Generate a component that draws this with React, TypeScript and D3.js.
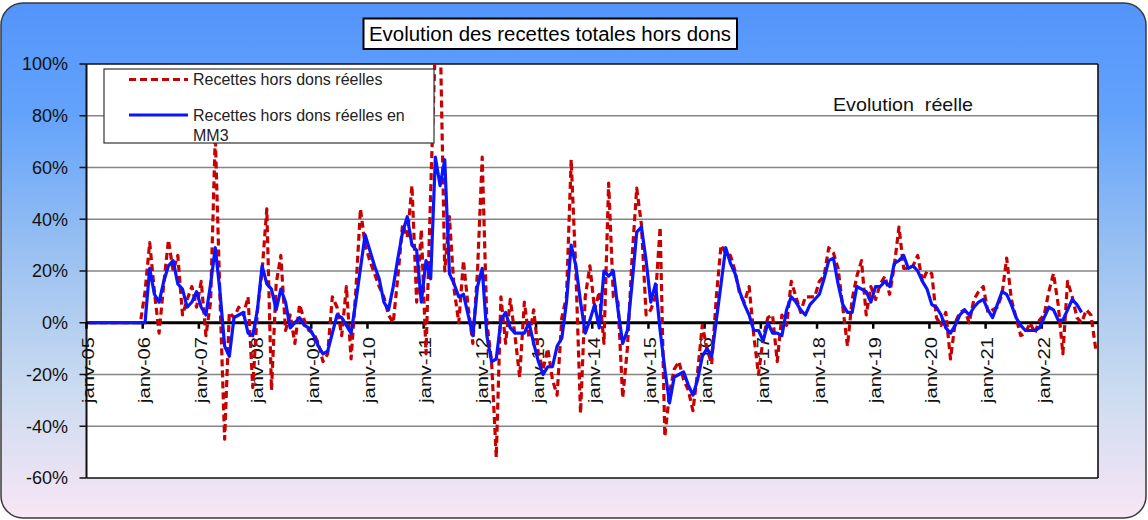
import React from 'react';
import * as d3 from 'd3';

// ---------- data ----------
const tickLabels = [
  'janv-05', 'janv-06', 'janv-07', 'janv-08', 'janv-09', 'janv-10', 'janv-11', 'janv-12', 'janv-13',
  'janv-14', 'janv-15', 'janv-16', 'janv-17', 'janv-18', 'janv-19', 'janv-20', 'janv-21', 'janv-22',
];

const yTicks = [100, 80, 60, 40, 20, 0, -20, -40, -60];

// Recettes hors dons réelles (monthly, % evolution), janv-05 onward
const reelles = [
  0, 0, 0, 0, 0, 0, 0, 0, 0, 0, 0, 0,
  12, 31, 12, -4, 15, 32, 20, 26, 3, 9, 14, 6,
  16, -5, 8, 72, 10, -45, 4, 2, 6, 3, 10, -25,
  5, 20, 44, -26, 15, 26, -3, 3, -8, 7, 1, -3,
  -4, -8, -15, -12, 10, 6, -5, 14, -14, 12, 44, 30,
  24, 19, 14, 10, 3, 0, 18, 38, 33, 53, 8, 36,
  -12, 51, 108, 115, 20, 41, 13, 0, 24, 6, -8, 20,
  64, 0, -15, -52, 10, -8, 9, -5, -21, 8, -6, 5,
  -12, -18, -10, -22, -28, 2, 10, 63, 20, -35, 10, 22,
  5, 12, -8, 54, 10, 8, -29, -10, 25, 52, 38, 3,
  5, 10, 37, -44, -27, -18, -15, -22, -26, -34, -19, -1,
  -10, -16, 10, 30, 27, 26, 20, 11, 8, 14, -5, -20,
  -6, 2, 3, -15, 3, -1, 16, 10, 4, 10, 10, 10,
  16, 18, 29, 27, 21, 6, -9, 9, 18, 24, 3, 14,
  9, 15, 18, 11, 22, 37, 21, 21, 22, 26, 16, 20,
  19, 2, -1, 4, -14, 0, 4, 5, 0, 9, 12, 14,
  4, 5, 6, 11, 25, 9, 2, -5, -4, 0, -4, 1,
  3, 12, 19, 7, -12, 16, 10, 2, 0, 5, 3, -10,
];

// Recettes hors dons réelles en MM3
const mm3 = [
  0, 0, 0, 0, 0, 0, 0, 0, 0, 0, 0, 0,
  0, 21, 11, 8, 16, 22, 24, 15, 13, 6, 8, 12,
  6, 3, 15, 29, 12, -9, -13, 2, 3, 4, -4, -5,
  5, 22, 15, 13, 5, 13, 8, -2, 0, 2, -1, -2,
  -5, -9, -12, -11, -4, 3, 2, -1, -4, 8, 21, 34,
  28, 22, 17, 8, 5, 14, 25, 35, 41, 30, 28, 8,
  24, 17, 64, 53, 63, 19, 15, 10, 11, 3, -5, 14,
  21, -5, -15, -14, 1, 4, -2, -4, -4, -4, 0, -8,
  -15, -20, -17, -17, -9, -6, 8, 30, 22, 8, -4, 1,
  7, -2, 20, 18, 20, 5, -8, -3, 15, 35, 37, 24,
  8, 15, -3, -18, -31, -21, -20, -19, -24, -28, -22, -13,
  -10, -13, 1, 15, 29, 23, 19, 12, 7, 3, -3, -3,
  -7, 0, -4, -4, -5, 5, 10, 8, 5, 3, 7, 9,
  11, 17, 24, 25, 15, 7, 4, 4, 14, 13, 12, 8,
  14, 14, 16, 14, 23, 24, 26, 21, 22, 20, 16, 13,
  7, 6, 3, -2, -4, -1, 3, 5, 3, 6, 8, 9,
  5, 2, 7, 12, 11, 7, 2, -1, -3, -3, -3, -2,
  2, 6, 5, 1, 1, 5, 9, 7, 4,
];

const seriesNames = ['Recettes hors dons réelles', 'Recettes hors dons réelles en', 'MM3'];
const titleText = 'Evolution des recettes totales hors dons';
const subTitle = 'Evolution  réelle';

// ---------- layout ----------
const W = 1148;
const H = 520;
const P = { left: 86.5, right: 1098, top: 64, bottom: 478 };
const FONT = '"Liberation Sans", Arial, Helvetica, sans-serif';
const RED = '#c80000';
const BLUE = '#0a14ff';

export default function App() {
  const nMonths = tickLabels.length * 12;
  const x = d3.scaleLinear().domain([0, nMonths]).range([P.left, P.right]);
  const y = d3.scaleLinear().domain([-60, 100]).range([P.bottom, P.top]);
  const line = d3
    .line<number>()
    .x((_, i) => x(i + 0.5))
    .y((d) => y(d));

  return (
    <svg
      width={W}
      height={H}
      style={{ position: 'absolute', left: 0, top: 0, display: 'block' }}
      fontFamily={FONT}
    >
      <defs>
        <linearGradient id="bg" x1="0" y1="0" x2="0" y2="1">
          <stop offset="0" stopColor="#5394fb" />
          <stop offset="0.22" stopColor="#64a3fb" />
          <stop offset="0.5" stopColor="#9cc2f1" />
          <stop offset="0.75" stopColor="#cbdbf0" />
          <stop offset="1" stopColor="#f8e6f5" />
        </linearGradient>
        <clipPath id="plotClip">
          <rect x={P.left} y={P.top} width={P.right - P.left} height={P.bottom - P.top} />
        </clipPath>
      </defs>

      <rect x={1} y={3} width={1145} height={515} rx={22} ry={22} fill="url(#bg)" stroke="#3a3a3a" strokeWidth={1.5} />

      {/* plot area */}
      <rect x={P.left} y={P.top} width={P.right - P.left} height={P.bottom - P.top} fill="#ffffff" />

      {yTicks.map((t) => (
        <line
          key={'g' + t}
          x1={P.left}
          x2={P.right}
          y1={y(t)}
          y2={y(t)}
          stroke={t === 100 || t === -60 ? '#111' : '#858585'}
          strokeWidth={1.6}
        />
      ))}
      <line x1={P.right} x2={P.right} y1={P.top} y2={P.bottom} stroke="#111" strokeWidth={1.6} />
      <line x1={P.left} x2={P.left} y1={P.top} y2={P.bottom} stroke="#111" strokeWidth={2} />

      {/* y ticks and labels */}
      {yTicks.map((t) => (
        <g key={'yt' + t}>
          <line x1={P.left - 7} x2={P.left} y1={y(t)} y2={y(t)} stroke="#111" strokeWidth={1.5} />
          <text x={68} y={y(t)} dy="0.36em" textAnchor="end" fontSize={18} fill="#111">
            {t + '%'}
          </text>
        </g>
      ))}

      {/* zero line */}
      <line x1={P.left} x2={P.right} y1={y(0)} y2={y(0)} stroke="#000" strokeWidth={3.2} />
      {tickLabels.map((lab, k) => (
        <line
          key={'xt' + k}
          x1={x(k * 12)}
          x2={x(k * 12)}
          y1={y(0)}
          y2={y(0) + 6}
          stroke="#000"
          strokeWidth={2.5}
        />
      ))}

      {/* x labels */}
      {tickLabels.map((lab, k) => {
        const tx = x(k * 12) + 2;
        const ty = 337;
        return (
          <text
            key={'xl' + k}
            transform={`translate(${tx},${ty}) rotate(-90)`}
            textAnchor="end"
            dy="0.36em"
            fontSize={16}
            fill="#111"
            textLength={66}
            lengthAdjust="spacingAndGlyphs"
          >
            {lab}
          </text>
        );
      })}

      {/* series */}
      <g clipPath="url(#plotClip)">
        <path
          d={line(reelles) || ''}
          fill="none"
          stroke={RED}
          strokeWidth={3.2}
          strokeDasharray="7,4"
          strokeLinejoin="round"
        />
        <path d={line(mm3) || ''} fill="none" stroke={BLUE} strokeWidth={3.2} strokeLinejoin="round" />
      </g>

      {/* legend */}
      <rect x={104} y={69} width={330} height={74} fill="#ffffff" stroke="#333" strokeWidth={1.2} />
      <line x1={129} x2={188} y1={79.5} y2={79.5} stroke={RED} strokeWidth={3.2} strokeDasharray="7,4" />
      <text x={193} y={85} fontSize={16} fill="#222">
        {seriesNames[0]}
      </text>
      <line x1={129} x2={188} y1={115} y2={115} stroke={BLUE} strokeWidth={3.2} />
      <text x={193} y={120.5} fontSize={16} fill="#222">
        {seriesNames[1]}
      </text>
      <text x={193} y={140.5} fontSize={16} fill="#222">
        {seriesNames[2]}
      </text>

      {/* in-plot label */}
      <text x={833} y={111} fontSize={19} fill="#111" textLength={140} lengthAdjust="spacingAndGlyphs" style={{ whiteSpace: 'pre' }}>
        {subTitle}
      </text>

      {/* title */}
      <rect x={363.5} y={18.5} width={373.5} height={30.5} fill="#ffffff" stroke="#000" strokeWidth={2} />
      <text x={550} y={40.5} textAnchor="middle" fontSize={20} fill="#000" textLength={362} lengthAdjust="spacingAndGlyphs">
        {titleText}
      </text>
    </svg>
  );
}
